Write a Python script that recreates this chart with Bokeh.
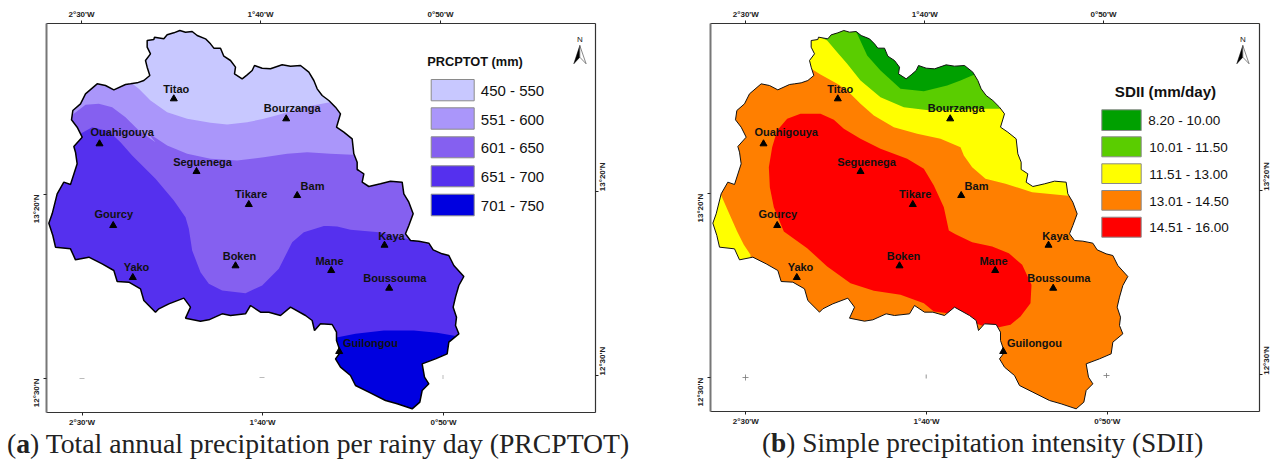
from bokeh.embed import file_html
from bokeh.resources import INLINE
from bokeh.plotting import figure
from bokeh.layouts import row, column
from bokeh.models import LinearAxis, FixedTicker, Range1d, Div
from bokeh.core.properties import value
import math

# --- calibration of the digitised map (image pixel -> degrees) ---
def lon(px): return -2.5 + (px - 81.5) / 180.75 * (5 / 6)
def lat(py): return 13 + 1 / 3 - (py - 194) / 184 * (5 / 6)
def T(ox, oy, pts): return [(ox + a / 3, oy + b / 3) for a, b in pts]

# --- study-area boundary, digitised clockwise ---
BOUNDARY = (
    T(130, 25, [(0,175),(20,172),(40,165),(58,150),(50,125),(45,105),(60,85),(50,65),(50,45),(70,42),(72,35),(100,40),(110,28),(130,22),(148,15),(165,20),(185,18),(200,30),(225,40),(240,55),(250,68),(270,68),(280,92),(300,105),(315,125),(312,145),(335,160),(350,148),(365,135),(372,120),(395,128),(420,130),(455,118),(480,122),(510,120),(535,140),(550,165),(560,190),(575,210),(595,225),(615,245),(630,265),(618,305),(640,320),(665,340),(670,385),(680,410),(680,432)])
    + T(300, 170, [(175,0),(190,10),(185,35),(205,48),(240,40),(270,32),(305,35),(310,70),(325,95),(338,130),(325,165),(315,190),(330,210),(355,212),(385,218),(398,238),(425,250),(445,255),(460,285),(490,318),(475,345),(465,380),(458,410),(468,440),(465,465),(475,490),(445,515),(440,550),(405,565),(365,580),(372,620),(385,640),(365,660),(358,695),(335,715),(290,700),(255,690),(205,665),(165,645),(150,615),(120,590),(105,565),(120,545),(108,510),(108,485),(95,462),(60,460),(42,480),(35,450)])
    + T(45, 200, [(780,345),(735,320),(705,345),(670,335),(645,335),(615,315),(600,340),(555,345),(530,340),(490,358),(465,362),(420,353),(435,320),(415,293),(370,310),(340,325),(330,335),(295,300),(285,265),(250,245),(215,243),(205,210),(170,190),(130,170),(90,178),(75,145),(30,140),(22,105),(10,68),(20,40)])
    + T(45, 70, [(35,370),(55,335),(75,342),(95,280),(90,245),(85,228),(110,200),(95,170),(78,148),(82,120),(105,100),(120,70),(155,40),(180,45),(205,58),(240,42)])
)

# --- PRCPTOT classes ---
PRCP_LABELS = ["450 - 550", "551 - 600", "601 - 650", "651 - 700", "701 - 750"]
PRCP_COLORS = ["#C8C8FF", "#AA96FA", "#8560F0", "#5530EE", "#0000E0"]
PRCP_450 = T(130, 25, [(0,170),(25,190),(60,225),(110,260),(170,280),(240,292),(290,297),(350,290),(400,280),(445,268),(520,245),(590,232),(640,225)]) + [(340, 15), (130, 15)]
PRCP_551 = T(45, 70, [(60,135),(82,132),(120,103),(160,100),(200,110),(240,140),(280,180),(330,215)]) + T(130, 25, [(50,320),(110,360),(170,385),(240,400),(320,405),(400,395),(470,385),(530,380),(600,385),(665,388),(720,390)]) + [(400, 155), (400, 15), (40, 15), (40, 115)]
PRCP_601 = (T(45, 70, [(70,195),(105,190),(140,170),(190,182),(225,215),(260,255),(330,325)])
            + T(45, 200, [(385,0),(420,50),(430,85),(440,150),(465,215),(490,250),(530,270),(600,278),(650,255),(700,205),(740,125),(775,95),(840,75)])
            + T(300, 170, [(55,165),(110,168),(150,178),(235,185),(320,205),(395,225),(450,240)]) + [(480, 251), (480, 15), (40, 15), (40, 130)])
PRCP_701 = T(300, 170, [(90,505),(112,500),(165,490),(250,480),(340,480),(410,487),(470,497),(510,505)]) + [(480, 411), (330, 411)]

# --- SDII classes ---
SDII_LABELS = ["8.20 - 10.00", "10.01 - 11.50", "11.51 - 13.00", "13.01 - 14.50", "14.51 - 16.00"]
SDII_COLORS = ["#00A000", "#5ACD00", "#FFFF00", "#FF7F00", "#FF0000"]
SDII_115 = T(-24, 0, [(490,190),(505,200),(540,222),(590,250),(620,270),(660,310),(700,345),(760,380),(830,400),(900,415),(960,440)]) + T(291, 0, [(25,465),(50,500),(90,535),(150,550),(230,575),(330,585),(400,590)]) + [(400, 15), (139, 15)]
SDII_115_SW = T(-24, 0, [(240,580),(262,630),(290,693)]) + T(-24, 231, [(310,40),(330,70),(330,120)]) + [(46, 271), (46, 193)]
SDII_100 = T(-24, 0, [(540,110),(560,120),(590,155),(620,190),(660,240),(720,290),(790,320),(870,330),(960,328)]) + T(291, 0, [(60,325),(130,325),(200,325)]) + [(360, 15), (156, 15)]
SDII_82 = T(-24, 0, [(640,85),(650,100),(680,165),(720,210),(780,265),(850,272),(920,255),(960,240)]) + T(291, 0, [(50,225),(100,210)]) + [(330, 15), (190, 15)]
SDII_145 = (T(-24, 0, [(480,340),(540,340),(580,358),(610,385),(660,415),(720,445),(800,475),(850,505),(880,555),(910,620),(925,690)])
            + T(291, 231, [(0,8),(50,32),(110,45),(160,65),(200,100),(228,160),(225,215),(195,255),(165,280),(130,287),(100,292),(85,284),(60,275)])
            + T(-24, 231, [(960,250),(880,240),(850,215),(780,190),(700,178),(630,155),(560,105),(500,50),(430,0)])
            + T(-24, 0, [(400,620),(388,560),(385,500),(395,440),(410,390),(440,355)]))

# --- towns ---
TOWNS = ["Titao", "Bourzanga", "Ouahigouya", "Seguenega", "Tikare", "Bam", "Gourcy", "Yako", "Boken", "Mane", "Kaya", "Boussouma", "Guilongou"]
TOWN_X = [173.3, 285.7, 99, 196, 248.3, 296.7, 112.7, 132.3, 235, 330.7, 384, 388.7, 338.7]
TOWN_Y = [98.3, 118.3, 143.3, 171, 204, 195, 225, 277, 265.3, 270, 244.7, 287.7, 351]
LABEL_X = [175.7, 291.7, 121.7, 202, 250.7, 312, 113.3, 136, 239, 329, 391, 394.3, 370]
LABEL_Y = [88, 107, 131, 161, 193.7, 185, 213, 266, 255.3, 260, 235, 277.7, 342.7]

LON_TICK_LABELS = ["2°30'W", "1°40'W", "0°50'W"]
LAT_TICK_LABELS = ["13°20'N", "12°30'N"]
CAPTION_A = "Total annual precipitation per rainy day (PRCPTOT)"
CAPTION_B = "Simple precipitation intensity (SDII)"

SANS = "Liberation Sans"
SERIF = "Liberation Serif"


def poly(p, pts, color):
    p.patch([lon(a) for a, _ in pts], [lat(b) for _, b in pts], fill_color=color, line_color=None)


def make_map(width, left, right, bottom_px, dx, top_px, bot_px, left_py, right_py):
    p = figure(frame_width=549, frame_height=int(bottom_px - 23), width=width, height=428,
               x_range=Range1d(lon(46), lon(595)), y_range=Range1d(lat(bottom_px), lat(23)),
               x_axis_location=None, y_axis_location=None, output_backend="svg", toolbar_location=None,
               min_border_left=left, min_border_right=right, min_border_top=23, min_border_bottom=int(428 - bottom_px))
    p.grid.visible = False
    p.outline_line_color = None
    p.background_fill_color = "white"
    p.border_fill_color = "white"

    def axis(side, ticks, labels, line_color, line_w, standoff):
        ax = LinearAxis(ticker=FixedTicker(ticks=ticks),
                        major_label_overrides=dict(zip(ticks, labels)),
                        major_tick_in=0, major_tick_out=3, minor_tick_in=0, minor_tick_out=0,
                        major_tick_line_color="#222222", axis_line_color=line_color, axis_line_width=line_w,
                        major_label_text_font=SANS, major_label_text_font_size="8px",
                        major_label_text_font_style="bold", major_label_text_color="#222222",
                        major_label_standoff=standoff)
        if side in ("left", "right"):
            ax.major_label_orientation = math.pi / 2
        p.add_layout(ax, side)

    axis("above", [round(lon(v - dx), 5) for v in top_px], LON_TICK_LABELS, "#333333", 1.2, 2)
    axis("below", [round(lon(v - dx), 5) for v in bot_px], LON_TICK_LABELS, "#333333", 1.2, 2)
    axis("left", [round(lat(v), 5) for v in left_py], LAT_TICK_LABELS, "#777777", 2, 7)
    axis("right", [round(lat(v), 5) for v in right_py], LAT_TICK_LABELS, "#333333", 1.2, 4)
    return p


def finish(p, outline_w, outline_color):
    ring_x = [lon(a) for a, _ in BOUNDARY]
    ring_y = [lat(b) for _, b in BOUNDARY]
    x0, x1, y0, y1 = lon(40), lon(600), lat(420), lat(15)
    p.multi_polygons(xs=[[[[x0, x1, x1, x0], ring_x]]], ys=[[[[y0, y0, y1, y1], ring_y]]],
                     fill_color="white", line_color=None)
    p.line(ring_x + ring_x[:1], ring_y + ring_y[:1], line_color=outline_color, line_width=outline_w)
    p.scatter([lon(v) for v in TOWN_X], [lat(v) for v in TOWN_Y], marker="triangle", size=7,
              fill_color="black", line_color="black")
    p.text([lon(v) for v in LABEL_X], [lat(v) for v in LABEL_Y], text=TOWNS, text_font=value(SANS),
           text_font_style="bold", text_font_size="11px", text_align="center", text_baseline="middle",
           text_color="#111111")


def legend(p, title, labels, colors, dx, box_x, box_y, text_x, title_xy, title_size, text_size, text_y):
    p.text([lon(title_xy[0] - dx)], [lat(title_xy[1])], text=[title], text_font=value(SANS), text_font_style="bold",
           text_font_size=title_size, text_align="center", text_baseline="middle", text_color="#111111")
    p.quad(left=[lon(box_x[0] - dx)] * 5, right=[lon(box_x[1] - dx)] * 5,
           top=[lat(a) for a, _ in box_y], bottom=[lat(b) for _, b in box_y],
           fill_color=colors, line_color="#8a8a8a", line_width=1)
    p.text([lon(v - dx) for v in text_x], [lat(v) for v in text_y], text=labels, text_font=value(SANS),
           text_font_size=text_size, text_align="left", text_baseline="middle", text_color="#111111")


def north(p, x, dx):
    x -= dx
    p.patch([lon(x), lon(x - 6), lon(x)], [lat(45), lat(63.3), lat(56.7)], fill_color="black", line_color="black", line_width=0.5)
    p.patch([lon(x), lon(x + 6.3), lon(x)], [lat(45), lat(63.3), lat(56.7)], fill_color="white", line_color="#555555", line_width=0.7)
    p.text([lon(x)], [lat(39)], text=["N"], text_font=value(SANS), text_font_size="8px", text_align="center",
           text_baseline="middle", text_color="#222222")


def caption(label, rest, width, left, size):
    return Div(text=f"(<b>{label}</b>) {rest}", width=width, height=32, margin=(0, 0, 0, left),
               styles={"font-family": SERIF, "font-size": size, "line-height": "29px",
                       "color": "#222222", "white-space": "nowrap"})


# Map (a)
a = make_map(640, 46, 45, 412, 0, [81, 260, 440], [81.5, 262, 443], [194, 378], [190.7, 375])
a.patch([lon(40), lon(600), lon(600), lon(40)], [lat(15), lat(15), lat(420), lat(420)], fill_color=PRCP_COLORS[3], line_color=None)
poly(a, PRCP_601, PRCP_COLORS[2])
poly(a, PRCP_551, PRCP_COLORS[1])
poly(a, PRCP_450, PRCP_COLORS[0])
poly(a, PRCP_701, PRCP_COLORS[4])
finish(a, 1.5, "#000000")
a.segment([lon(79), lon(259), lon(442.5)], [lat(378), lat(377), lat(374.5)], [lon(84), lon(264), lon(442.5)], [lat(378), lat(377), lat(378.5)], line_color="#bbbbbb", line_width=1)
legend(a, "PRCPTOT (mm)", PRCP_LABELS, PRCP_COLORS, 0, (430.7, 473.7),
       [(79, 100.3), (107.3, 128.7), (136.3, 157.3), (165.3, 186.3), (193.7, 215.3)],
       [480.3] * 5, (474.5, 61), "12.8px", "15px", [90, 118.5, 147, 176, 204.5])
north(a, 579.3, 0)

# Map (b)
b = make_map(635, 70, 16, 411, 664, [745.3, 924.3, 1103], [745.3, 926, 1106.7], [193.3, 377.3], [190.3, 374.3])
b.patch([lon(40), lon(600), lon(600), lon(40)], [lat(15), lat(15), lat(420), lat(420)], fill_color=SDII_COLORS[3], line_color=None)
poly(b, SDII_115, SDII_COLORS[2])
poly(b, SDII_115_SW, SDII_COLORS[2])
poly(b, SDII_100, SDII_COLORS[1])
poly(b, SDII_82, SDII_COLORS[0])
poly(b, SDII_145, SDII_COLORS[4])
finish(b, 1.0, "#111111")
b.segment([lon(78), lon(81), lon(261.7), lon(439), lon(442)], [lat(377), lat(374), lat(374), lat(375), lat(372.5)],
          [lon(84), lon(81), lon(261.7), lon(445), lon(442)], [lat(377), lat(380), lat(378), lat(375), lat(377.5)],
          line_color="#777777", line_width=0.8)
legend(b, "SDII (mm/day)", SDII_LABELS, SDII_COLORS, 664, (1101.3, 1140.7),
       [(109.3, 130), (136.3, 156.3), (163.3, 183), (190, 209.7), (216.7, 236.7)],
       [1147.7, 1148.7, 1148.7, 1148.7, 1148.7], (1165, 91), "15.2px", "13.5px", [120, 147, 174, 200.5, 227])
north(b, 1242.3, 664)

page = column(row(a, b), row(caption("a", CAPTION_A, 633, 7, "27.7px"), caption("b", CAPTION_B, 500, 122, "27.3px")))
open("out.html", "w").write(file_html(page, INLINE))
